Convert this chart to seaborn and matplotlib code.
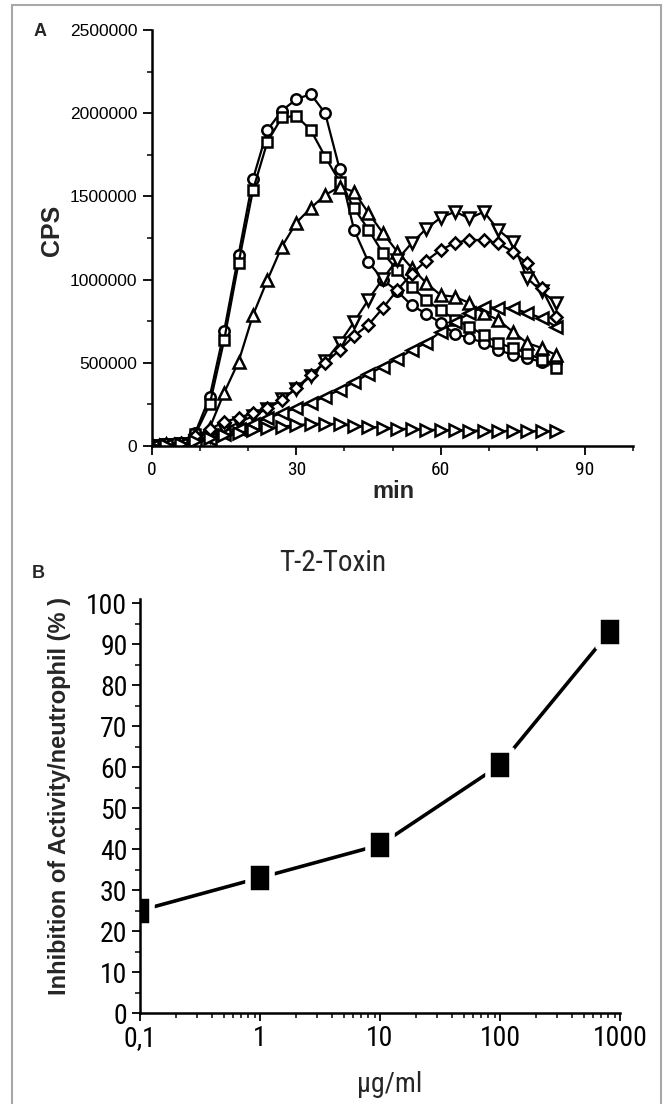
import numpy as np
import pandas as pd
import matplotlib
matplotlib.use("Agg")
import matplotlib.pyplot as plt
import matplotlib.font_manager as fm
import seaborn as sns
from matplotlib.path import Path
from matplotlib.patches import Rectangle
from matplotlib.ticker import FixedLocator, MultipleLocator, NullFormatter, LogLocator

# ---------------- data: panel A (chemiluminescence kinetics) ----------------
time_min = [0, 3, 6, 9, 12, 15, 18, 21, 24, 27, 30, 33, 36, 39, 42, 45, 48, 51,
            54, 57, 60, 63, 66, 69, 72, 75, 78, 81, 84]
cps_circle = [5e3, 15e3, 20e3, 80e3, 296e3, 691e3, 1150e3, 1605e3, 1899e3, 2015e3,
              2084e3, 2115e3, 2000e3, 1665e3, 1300e3, 1105e3, 1000e3, 930e3, 845e3,
              795e3, 740e3, 673e3, 650e3, 619e3, 577e3, 547e3, 529e3, 505e3, 500e3]
cps_square = [5e3, 10e3, 20e3, 70e3, 250e3, 637e3, 1100e3, 1539e3, 1829e3, 1975e3,
              1983e3, 1899e3, 1739e3, 1589e3, 1430e3, 1300e3, 1160e3, 1058e3, 957e3,
              877e3, 817e3, 760e3, 717e3, 667e3, 619e3, 589e3, 559e3, 517e3, 469e3]
cps_tri_up = [5e3, 10e3, 15e3, 30e3, 110e3, 320e3, 507e3, 787e3, 998e3, 1198e3,
              1342e3, 1430e3, 1508e3, 1558e3, 1528e3, 1400e3, 1280e3, 1168e3, 1070e3,
              980e3, 907e3, 897e3, 859e3, 799e3, 757e3, 687e3, 619e3, 589e3, 547e3]
cps_tri_down = [0, 5e3, 10e3, 30e3, 60e3, 100e3, 140e3, 180e3, 225e3, 280e3,
                345e3, 420e3, 510e3, 619e3, 745e3, 880e3, 1005e3, 1120e3, 1220e3,
                1305e3, 1372e3, 1408e3, 1368e3, 1408e3, 1298e3, 1228e3, 1008e3, 930e3, 860e3]
cps_diamond = [0, 10e3, 20e3, 60e3, 100e3, 146e3, 168e3, 200e3, 228e3, 276e3,
               349e3, 427e3, 499e3, 577e3, 662e3, 728e3, 829e3, 937e3, 1035e3,
               1113e3, 1178e3, 1221e3, 1238e3, 1238e3, 1218e3, 1168e3, 1098e3, 948e3, 777e3]
cps_tri_left = [0, 5e3, 10e3, 20e3, 40e3, 70e3, 100e3, 135e3, 168e3, 198e3,
                228e3, 258e3, 297e3, 337e3, 383e3, 433e3, 477e3, 523e3, 577e3,
                619e3, 687e3, 747e3, 797e3, 837e3, 829e3, 829e3, 799e3, 769e3, 717e3]
cps_tri_right = [0, 5e3, 10e3, 30e3, 50e3, 65e3, 78e3, 96e3, 108e3, 116e3,
                 126e3, 132e3, 135e3, 130e3, 120e3, 115e3, 110e3, 105e3, 100e3,
                 98e3, 96e3, 95e3, 93e3, 92e3, 90e3, 90e3, 90e3, 88e3, 88e3]

cps_ticks = [0, 500000, 1000000, 1500000, 2000000, 2500000]
min_ticks = [0, 30, 60, 90]

# ---------------- data: panel B (T-2-Toxin dose response) ----------------
conc_ug_ml = [0.1, 1, 10, 100, 820]
inhibition_pct = [25, 33, 41, 60.5, 93]
conc_ticks = [0.1, 1, 10, 100, 1000]
conc_tick_labels = ["0,1", "1", "10", "100", "1000"]
inhib_ticks = list(range(0, 101, 10))

# ---------------- styling ----------------
sns.set_theme(style="ticks")
REG = ["Liberation Sans", "DejaVu Sans"]
plt.rcParams["font.family"] = REG
plt.rcParams["axes.linewidth"] = 1.5


def pick_narrow():
    ttf = fm.fontManager.ttflist
    names = {f.name for f in ttf}
    for n in ["Liberation Sans Narrow", "Arial Narrow", "Roboto Condensed",
              "Noto Sans Condensed", "Open Sans Condensed", "Noto Sans Display Condensed"]:
        if n in names:
            return n, "normal", 1.0
    for n in ["Noto Sans", "Roboto", "Open Sans", "Noto Sans Display"]:
        for f in ttf:
            if (f.name == n and str(f.stretch) in ("condensed", "semi-condensed", "extra-condensed")
                    and f.style == "normal"):
                return n, "condensed", 1.0
    return "Liberation Sans", "normal", 0.9


NARROW_NAME, NARROW_STRETCH, NARROW_SCALE = pick_narrow()
NARROW = [NARROW_NAME, "DejaVu Sans"]


def nfont(size):
    return dict(family=NARROW, fontstretch=NARROW_STRETCH, fontsize=size * NARROW_SCALE)


W, H = 665, 1104
fig = plt.figure(figsize=(W / 100, H / 100), dpi=100)
fig.patch.set_facecolor("white")


def fx(px):
    return px / W


def fy(py):
    return 1 - py / H


# frame around figure
fig.patches.append(Rectangle((fx(12), fy(1110)), fx(661) - fx(12), fy(5) - fy(1110),
                             transform=fig.transFigure, fill=False,
                             edgecolor="#a8a8a8", linewidth=1.5))

# ---------------- panel A ----------------
axA = fig.add_axes([fx(152), fy(446), fx(633) - fx(152), fy(30) - fy(446)])
seriesA = [
    ("o", cps_circle, 7.5),
    ("s", cps_square, 6.5),
    ("^", cps_tri_up, 8.5),
    ("v", cps_tri_down, 8.5),
    ("D", cps_diamond, 6.5),
    ("<", cps_tri_left, 8.5),
    (">", cps_tri_right, 8.5),
]
for m, vals, ms in seriesA:
    sns.lineplot(x=time_min, y=vals, ax=axA, color="black", linewidth=1.6,
                 marker=m, markersize=ms, markerfacecolor="white",
                 markeredgecolor="black", markeredgewidth=1.8, legend=False)

axA.set_xlim(0, 100)
axA.set_ylim(0, 2500000)
axA.xaxis.set_major_locator(FixedLocator(min_ticks))
axA.xaxis.set_minor_locator(MultipleLocator(10))
axA.yaxis.set_major_locator(FixedLocator(cps_ticks))
axA.yaxis.set_minor_locator(MultipleLocator(250000))
axA.set_yticklabels([str(v) for v in cps_ticks], family=REG, fontsize=12.5)
axA.set_xticklabels([str(v) for v in min_ticks], **nfont(14))
axA.tick_params(which="major", direction="out", length=6.5, width=1.3, pad=4, colors="black")
axA.tick_params(which="minor", direction="out", length=3.5, width=1.3)
axA.set_xlabel("")
axA.set_ylabel("")
sns.despine(ax=axA)
for s in ("left", "bottom"):
    axA.spines[s].set_color("black")
    axA.spines[s].set_linewidth(1.8)

fig.text(fx(40), fy(32), "A", ha="center", va="center", fontsize=13, fontweight="bold")
fig.text(fx(52), fy(230), "CPS", ha="center", va="center", rotation=90,
         fontsize=18, fontweight="bold")
fig.text(fx(393), fy(492), "min", ha="center", va="center", fontsize=17, fontweight="bold")

# ---------------- panel B ----------------
axB = fig.add_axes([fx(140), fy(1013), fx(620) - fx(140), fy(599) - fy(1013)])
axB.set_xscale("log")
rect_marker = Path([(-0.40, -0.5), (0.40, -0.5), (0.40, 0.5), (-0.40, 0.5), (-0.40, -0.5)],
                   [Path.MOVETO, Path.LINETO, Path.LINETO, Path.LINETO, Path.CLOSEPOLY])
sns.lineplot(x=conc_ug_ml, y=inhibition_pct, ax=axB, color="black", linewidth=2.6,
             marker=rect_marker, markersize=21, markerfacecolor="black",
             markeredgecolor="white", markeredgewidth=4, legend=False)
axB.set_xlim(0.1, 1000)
axB.set_ylim(0, 101)
axB.xaxis.set_major_locator(FixedLocator(conc_ticks))
axB.xaxis.set_minor_locator(LogLocator(base=10, subs=np.arange(2, 10)))
axB.xaxis.set_minor_formatter(NullFormatter())
axB.set_xticklabels(conc_tick_labels, **nfont(20))
axB.yaxis.set_major_locator(FixedLocator(inhib_ticks))
axB.yaxis.set_minor_locator(MultipleLocator(5))
axB.set_yticklabels([str(v) for v in inhib_ticks], **nfont(20))
axB.tick_params(which="major", direction="out", length=6, width=1.3, pad=3, colors="black")
axB.tick_params(which="minor", direction="out", length=3.5, width=1.3)
axB.set_xlabel("")
axB.set_ylabel("")
sns.despine(ax=axB)
for s in ("left", "bottom"):
    axB.spines[s].set_color("black")
    axB.spines[s].set_linewidth(1.8)

fig.text(fx(333), fy(563), "T-2-Toxin", ha="center", va="center", **nfont(21))
fig.text(fx(38), fy(573), "B", ha="center", va="center", fontsize=13, fontweight="bold")
fig.text(fx(60), fy(796), "Inhibition of Activity/neutrophil (% )", ha="center", va="center",
         rotation=90, fontsize=17, fontweight="bold")
fig.text(fx(390), fy(1085), "µg/ml", ha="center", va="center", **nfont(20))

fig.savefig("out.png", dpi=100)
